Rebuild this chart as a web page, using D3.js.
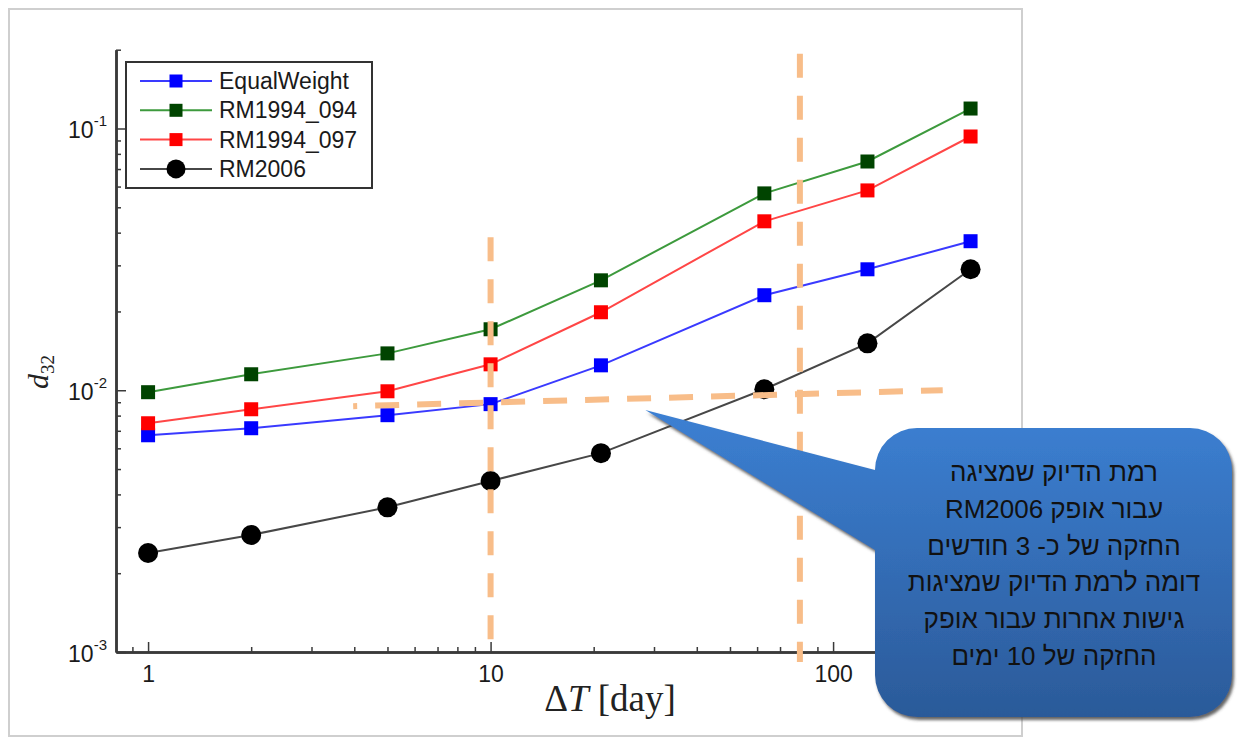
<!DOCTYPE html>
<html>
<head>
<meta charset="utf-8">
<script src="https://cdn.jsdelivr.net/npm/d3@7"></script>
<style>
    body { margin: 0; background: #fff; }
    svg { display: block; font-family: "Liberation Sans", Arial, sans-serif; }
</style>
</head>
<body>
<svg id="chart" width="1237" height="738"></svg>
<script>
// holding horizon in trading days
const horizons = [1, 2, 5, 10, 21, 63, 126, 252];
const equalWeight = [0.00673, 0.00716, 0.00803, 0.00885, 0.01245, 0.02307, 0.02898, 0.0371];
const rm1994_094 = [0.00983, 0.01151, 0.01383, 0.01710, 0.0263, 0.0565, 0.0748, 0.1192];
const rm1994_097 = [0.00748, 0.00846, 0.00991, 0.01256, 0.01986, 0.0442, 0.0580, 0.0932];
const rm2006 = [0.00239, 0.00280, 0.00357, 0.00450, 0.00575, 0.01009, 0.01511, 0.02898];
const seriesNames = ['EqualWeight', 'RM1994_094', 'RM1994_097', 'RM2006'];

const xTickValues = [1, 10, 100];
const xTickLabels = ['1', '10', '100'];
const yTickValues = [0.001, 0.01, 0.1];
const yTickExponents = ['-3', '-2', '-1'];

// orange guide lines, in data units [dT, d32]
const guideLines = [
    [[10, 0.0384], [10, 0.00111]],
    [[80, 0.193], [80, 0.000916]],
    [[3.97, 0.00869], [209, 0.0100]]
];
const guideOffsets = [0, 0, 20];
const calloutTip = [28.3, 0.0084];
// each line split into pieces, left to right as they appear
const calloutLines = [
    ['רמת הדיוק שמציגה'],
    ['RM2006', 'עבור אופק'],
    ['החזקה של כ- 3 חודשים'],
    ['דומה לרמת הדיוק שמציגות'],
    ['גישות אחרות עבור אופק'],
    ['החזקה של 10 ימים']
];

const lineColors = ['#3a3aff', '#3d9a3d', '#ff4646', '#474747'];
const markColors = ['#0000ff', '#004400', '#ff0000', '#000000'];
const markShapes = ['square', 'square', 'square', 'circle'];

class d32Chart {
    constructor() {
        this.svg = d3.select('#chart');
        this.series = [equalWeight, rm1994_094, rm1994_097, rm2006].map((vals, i) => ({
            name: seriesNames[i],
            line: lineColors[i],
            mark: markColors[i],
            shape: markShapes[i],
            values: vals.map((v, j) => ({x: horizons[j], y: v}))
        }));

        this.scaleX = d3.scaleLog().domain([0.806, 300]).range([116, 996.5]);
        this.scaleY = d3.scaleLog().domain([0.001, 0.2]).range([652, 49.7]);

        this.svg.append('rect')
            .attr('x', 9).attr('y', 9)
            .attr('width', 1013).attr('height', 727)
            .attr('fill', 'none')
            .attr('stroke', '#cfcfcf')
            .attr('stroke-width', 2);

        this.createAxes();
        this.createLines();
        this.createGuides();
        this.createLegend();
        this.createCallout();
    }

    createAxes() {
        const minorX = this.scaleX.ticks().filter(d => !xTickValues.includes(d));
        const minorY = this.scaleY.ticks().filter(d => !yTickValues.some(t => Math.abs(t - d) < 1e-9));

        const gx = this.svg.append('g').attr('transform', `translate(0, ${this.scaleY.range()[0]})`);
        gx.append('g').call(d3.axisBottom(this.scaleX).tickValues(minorX).tickSizeInner(-5).tickSizeOuter(0).tickFormat(''));
        gx.append('g').call(d3.axisBottom(this.scaleX).tickValues(xTickValues).tickSizeInner(-10).tickSizeOuter(0)
            .tickPadding(14).tickFormat((d, i) => xTickLabels[i]));

        const gy = this.svg.append('g').attr('transform', `translate(${this.scaleX.range()[0]}, 0)`);
        gy.append('g').call(d3.axisLeft(this.scaleY).tickValues(minorY).tickSizeInner(-5).tickSizeOuter(0).tickFormat(''));
        gy.append('g').call(d3.axisLeft(this.scaleY).tickValues(yTickValues).tickSizeInner(-10).tickSizeOuter(0).tickFormat(''));

        this.svg.selectAll('.domain').attr('stroke', '#3a3a3a').attr('stroke-width', 2.5);
        this.svg.selectAll('.tick line').attr('stroke', '#3a3a3a').attr('stroke-width', 1.5);
        gx.selectAll('.tick text')
            .attr('font-size', 23)
            .attr('font-family', '"Liberation Sans", Arial, sans-serif')
            .attr('fill', '#1a1a1a');

        const yl = this.svg.append('g').selectAll('text')
            .data(yTickValues)
            .join('text')
            .attr('x', 107)
            .attr('y', d => this.scaleY(d) + 10)
            .attr('text-anchor', 'end')
            .attr('fill', '#1a1a1a');
        yl.append('tspan').attr('font-size', 23).text('10');
        yl.append('tspan').attr('font-size', 15).attr('dy', -12).text((d, i) => yTickExponents[i]);

        // axis titles
        const ylab = this.svg.append('text')
            .attr('transform', 'translate(48, 372) rotate(-90)')
            .attr('text-anchor', 'middle')
            .attr('font-family', '"Liberation Serif", "Times New Roman", serif')
            .attr('fill', '#222');
        ylab.append('tspan').attr('font-size', 30).attr('font-style', 'italic').text('d');
        ylab.append('tspan').attr('font-size', 19).attr('dy', 6).text('32');

        const xlab = this.svg.append('text')
            .attr('x', 610).attr('y', 711)
            .attr('text-anchor', 'middle')
            .attr('font-family', '"Liberation Serif", "Times New Roman", serif')
            .attr('font-size', 37)
            .attr('fill', '#222');
        xlab.append('tspan').text('Δ');
        xlab.append('tspan').attr('font-style', 'italic').text('T');
        xlab.append('tspan').text(' [day]');
    }

    drawMark(sel, shape, color, size) {
        if (shape === 'circle') {
            sel.append('circle').attr('r', size / 2 + 3).attr('fill', color);
        } else {
            sel.append('rect')
                .attr('x', -size / 2).attr('y', -size / 2)
                .attr('width', size).attr('height', size)
                .attr('fill', color);
        }
    }

    createLines() {
        const line = d3.line().x(d => this.scaleX(d.x)).y(d => this.scaleY(d.y));
        const groups = this.svg.append('g').selectAll('g')
            .data(this.series)
            .join('g');

        groups.append('path')
            .attr('d', d => line(d.values))
            .attr('fill', 'none')
            .attr('stroke', d => d.line)
            .attr('stroke-width', 2);

        groups.each((s, i, nodes) => {
            d3.select(nodes[i]).selectAll('.mark')
                .data(s.values)
                .join('g')
                .attr('class', 'mark')
                .attr('transform', d => `translate(${this.scaleX(d.x)}, ${this.scaleY(d.y)})`)
                .call(sel => this.drawMark(sel, s.shape, s.mark, 14));
        });
    }

    createGuides() {
        this.svg.append('g').selectAll('line')
            .data(guideLines)
            .join('line')
            .attr('x1', d => this.scaleX(d[0][0]))
            .attr('y1', d => this.scaleY(d[0][1]))
            .attr('x2', d => this.scaleX(d[1][0]))
            .attr('y2', d => this.scaleY(d[1][1]))
            .attr('stroke', '#f8bd89')
            .attr('stroke-width', 6)
            .attr('stroke-dasharray', '24 18')
            .attr('stroke-dashoffset', (d, i) => guideOffsets[i]);
    }

    createLegend() {
        const lg = this.svg.append('g').attr('transform', 'translate(126, 62)');
        lg.append('rect')
            .attr('width', 246).attr('height', 126)
            .attr('fill', '#fff')
            .attr('stroke', '#333')
            .attr('stroke-width', 2);

        const row = lg.selectAll('.row')
            .data(this.series)
            .join('g')
            .attr('class', 'row')
            .attr('transform', (d, i) => `translate(0, ${19 + i * 29.3})`);

        row.append('line')
            .attr('x1', 14).attr('x2', 86)
            .attr('stroke', d => d.line)
            .attr('stroke-width', 2);
        row.each((s, i, nodes) => {
            d3.select(nodes[i]).append('g')
                .attr('transform', 'translate(50, 0)')
                .call(sel => this.drawMark(sel, s.shape, s.mark, 13));
        });
        row.append('text')
            .attr('x', 93).attr('y', 8)
            .attr('font-size', 23)
            .attr('fill', '#1a1a1a')
            .text(d => d.name);
    }

    createCallout() {
        const x0 = 875, x1 = 1232, y0 = 428, y1 = 717, r = 42;
        const baseTop = 470, baseBottom = 550;
        const tx = this.scaleX(calloutTip[0]), ty = this.scaleY(calloutTip[1]);

        const defs = this.svg.append('defs');
        const grad = defs.append('linearGradient')
            .attr('id', 'calloutFill')
            .attr('x1', 0).attr('y1', 0).attr('x2', 0).attr('y2', 1);
        grad.append('stop').attr('offset', '0%').attr('stop-color', '#3c80d3');
        grad.append('stop').attr('offset', '100%').attr('stop-color', '#2b5a99');

        const filter = defs.append('filter').attr('id', 'calloutShadow')
            .attr('x', '-5%').attr('y', '-5%').attr('width', '115%').attr('height', '115%');
        filter.append('feGaussianBlur').attr('in', 'SourceAlpha').attr('stdDeviation', 1.4);
        filter.append('feOffset').attr('dx', 2).attr('dy', 3).attr('result', 'off');
        filter.append('feFlood').attr('flood-color', '#4a4a4a').attr('flood-opacity', 0.85);
        filter.append('feComposite').attr('in2', 'off').attr('operator', 'in');
        const merge = filter.append('feMerge');
        merge.append('feMergeNode');
        merge.append('feMergeNode').attr('in', 'SourceGraphic');

        const p = d3.path();
        p.moveTo(x0 + r, y0);
        p.lineTo(x1 - r, y0);
        p.arcTo(x1, y0, x1, y0 + r, r);
        p.lineTo(x1, y1 - r);
        p.arcTo(x1, y1, x1 - r, y1, r);
        p.lineTo(x0 + r, y1);
        p.arcTo(x0, y1, x0, y1 - r, r);
        p.lineTo(x0, baseBottom);
        p.lineTo(tx, ty);
        p.lineTo(x0, baseTop);
        p.lineTo(x0, y0 + r);
        p.arcTo(x0, y0, x0 + r, y0, r);
        p.closePath();

        this.svg.append('path')
            .attr('d', p.toString())
            .attr('fill', 'url(#calloutFill)')
            .attr('filter', 'url(#calloutShadow)');

        // each piece is its own text so the visual order stays as drawn
        const fontSize = 26, gap = 7, cx = 1054;
        const rows = this.svg.append('g').selectAll('g')
            .data(calloutLines)
            .join('g')
            .attr('transform', (d, i) => `translate(0, ${481 + i * 36.8})`);

        rows.each(function (pieces) {
            const g = d3.select(this);
            const texts = g.selectAll('text')
                .data(pieces)
                .join('text')
                .attr('font-size', fontSize)
                .attr('fill', '#111')
                .text(d => d);
            const widths = texts.nodes().map(n => n.getComputedTextLength());
            const total = d3.sum(widths) + gap * (pieces.length - 1);
            let x = cx - total / 2;
            texts.attr('x', (d, i) => {
                const left = x;
                x += widths[i] + gap;
                return left;
            });
        });
    }
}

new d32Chart();
</script>
</body>
</html>
